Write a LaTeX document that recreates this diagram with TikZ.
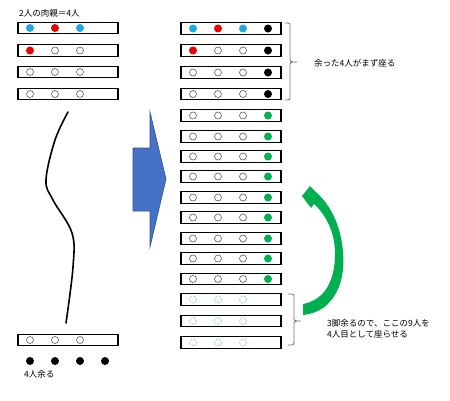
\documentclass[tikz,border=0pt]{standalone}
\usepackage{fontspec}
\setmainfont{Noto Sans CJK JP}
\definecolor{cblue}{RGB}{30,168,224}
\definecolor{cred}{RGB}{235,0,0}
\definecolor{cgreen}{RGB}{0,176,80}
\definecolor{cdash}{RGB}{110,190,170}
\definecolor{arrowblue}{RGB}{68,114,196}
\definecolor{arrowedge}{RGB}{47,82,143}
\begin{document}
\begin{tikzpicture}[x=1pt,y=-1pt,
  rowbox/.style={draw=black, line width=1.1pt, minimum width=100pt, minimum height=11.5pt, inner sep=0pt},
  pb/.style={circle, fill=cblue, minimum size=8pt, inner sep=0pt},
  pr/.style={circle, fill=cred, minimum size=8pt, inner sep=0pt},
  pk/.style={circle, fill=black, minimum size=8pt, inner sep=0pt},
  pg/.style={circle, fill=cgreen, minimum size=8pt, inner sep=0pt},
  po/.style={circle, draw=black!65, line width=0.6pt, minimum size=7pt, inner sep=0pt},
  ps/.style={circle, draw=cdash, densely dotted, line width=0.7pt, minimum size=7pt, inner sep=0pt},
  pn/.style={inner sep=0pt, minimum size=0pt},
  txt/.style={font=\fontsize{8.5pt}{11pt}\selectfont, inner sep=0pt, anchor=west},
  bracel/.style={draw=black!55, line width=0.8pt}]
\useasboundingbox (0,0) rectangle (450,400);

% title
\node[txt] (title) at (19,13) {2人の肉親＝4人};

% left column
\foreach \n/\y/\a/\b/\c in {1/28/pb/pr/pb, 2/50.5/pr/po/po, 3/72/po/po/po, 4/94/po/po/po, 5/340/po/po/po} {
  \node[rowbox] (L\n) at (68,\y) {};
  \node[\a] (L\n a) at ([xshift=-38pt]L\n.center) {};
  \node[\b] (L\n b) at ([xshift=-13pt]L\n.center) {};
  \node[\c] (L\n c) at ([xshift=12pt]L\n.center) {};
}
% spare people
\foreach \i/\x in {1/30,2/55,3/80,4/105} {
  \node[pk] (S\i) at (\x,361) {};
}
\node[txt] (rest) at (24,374) {4人余る};

% wavy line
\coordinate (ctop) at (68,112);
\coordinate (cbot) at (66,323);
\draw[line width=1.6pt, line cap=round] plot[smooth, tension=0.6] coordinates {(ctop) (55,140) (46,180) (53,200) (72,233) (73,267) (cbot)};

% big blue arrow
\draw[fill=arrowblue, draw=arrowedge, line width=0.6pt]
  (133,148) -- (150,148) -- (150,112) -- (166,179) -- (150,247) -- (150,211) -- (133,211) -- cycle;

% right column
\foreach \n/\y/\a/\b/\c/\d in {
  1/28.5/pb/pr/pb/pk, 2/50.5/pr/po/po/pk, 3/72.5/po/po/po/pk, 4/94/po/po/po/pk,
  5/115.5/po/po/po/pg, 6/136.5/po/po/po/pg, 7/156.5/po/po/po/pg, 8/176.5/po/po/po/pg,
  9/197.5/po/po/po/pg, 10/217.5/po/po/po/pg, 11/238.5/po/po/po/pg, 12/258.5/po/po/po/pg,
  13/279/po/po/po/pg, 14/299.5/ps/ps/ps/pn, 15/321/ps/ps/ps/pn, 16/342.5/ps/ps/ps/pn} {
  \node[rowbox] (R\n) at (231,\y) {};
  \node[\a] (R\n a) at ([xshift=-38pt]R\n.center) {};
  \node[\b] (R\n b) at ([xshift=-13pt]R\n.center) {};
  \node[\c] (R\n c) at ([xshift=12pt]R\n.center) {};
  \node[\d] (R\n d) at ([xshift=37pt]R\n.center) {};
}

% top brace
\draw[bracel] (285,23) .. controls (290,23) .. (290,27) -- (290,58) .. controls (290,62) .. (297,62)
  .. controls (290,62) .. (290,66) -- (290,96) .. controls (290,100) .. (285,100);
\node[txt] (t1) at (314,63) {余った4人がまず座る};

% bottom brace
\draw[bracel] (288,294) .. controls (294,294) .. (294,298) -- (294,317) .. controls (294,321) .. (301,321)
  .. controls (294,321) .. (294,325) -- (294,341) .. controls (294,345) .. (288,345);
\node[txt, align=left] (t2) at (327,329) {3脚余るので、ここの9人を\\4人目として座らせる};

% green curved arrow
\fill[cgreen] (303,304) -- (303,315) .. controls (335,312) and (346,280) .. (343,252)
  .. controls (341,225) and (330,205) .. (317,193) -- (310,186) -- (302,196) -- (311,208) -- (314,204)
  .. controls (326,215) and (335,232) .. (335,254) .. controls (335,280) and (325,300) .. (303,304) -- cycle;
\end{tikzpicture}
\end{document}
